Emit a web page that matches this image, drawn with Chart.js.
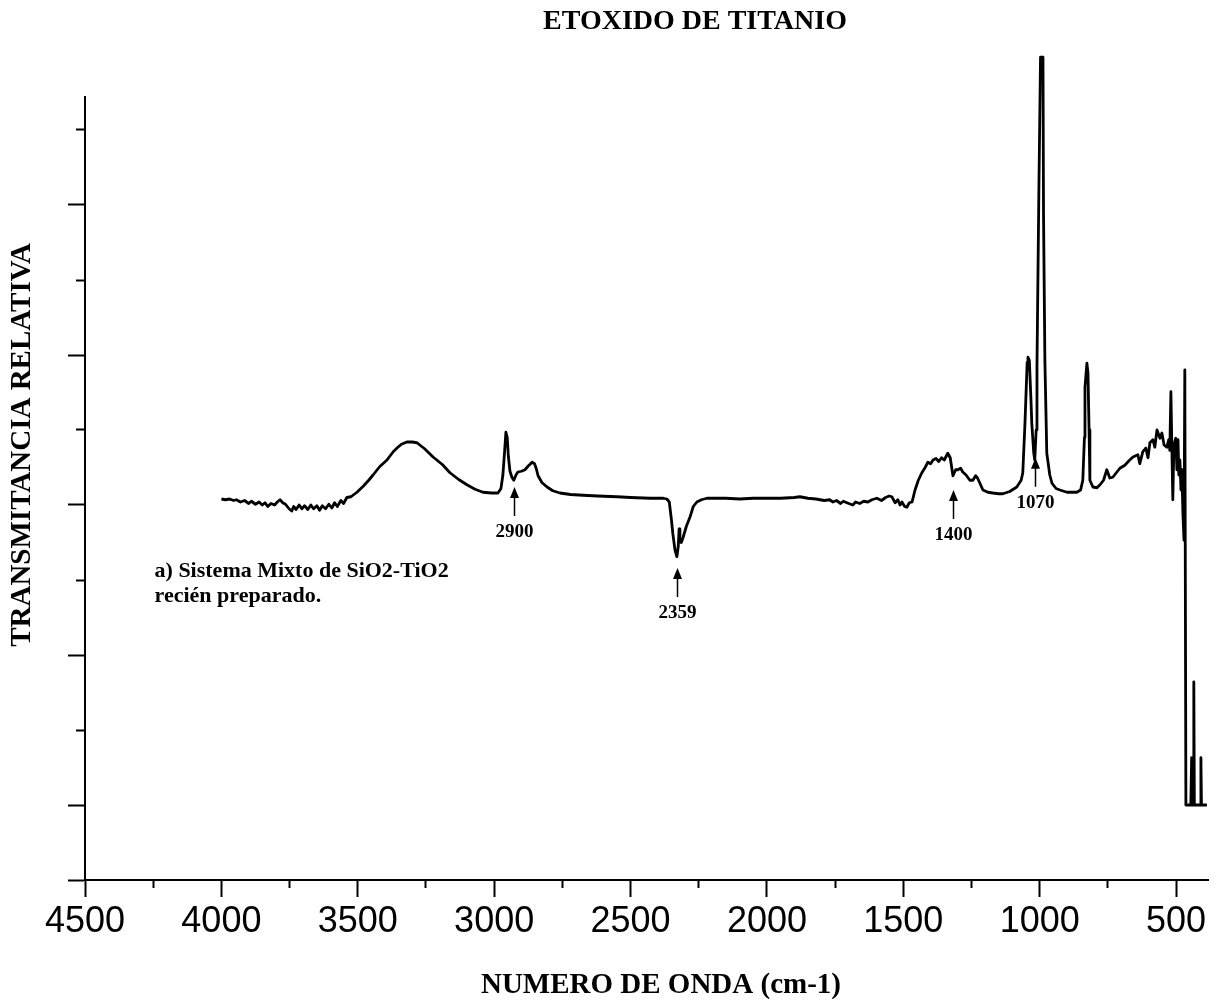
<!DOCTYPE html>
<html><head><meta charset="utf-8">
<script src="https://cdn.jsdelivr.net/npm/chart.js@4"></script>
<style>html,body{margin:0;padding:0;background:#fff;}</style>
</head><body>
<canvas id="c" width="1231" height="1000"></canvas>
<script>
// ---- data ----
const wavenumbers = [
 4000,3985,3970,3955,3945,3930,3915,3900,3890,3875,3862,3850,3840,3830,3818,3805,3795,3785,3775,3765,
 3752,3742,3735,3726,3715,3705,3695,3683,3672,3662,3650,3640,3630,3618,3606,3595,3585,3575,3562,3552,
 3540,3525,3503,3480,3460,3444,3420,3393,3370,3356,3340,3320,3300,3283,3255,3224,3190,3162,3130,3100,
 3070,3041,3010,2986,2975,2968,2962,2957,2952,2948,2942,2935,2928,2920,2913,2900,2887,2875,2861,2852,
 2846,2839,2825,2806,2785,2759,2720,2674,2620,2550,2500,2429,2380,2367,2358,2350,2345,2337,2330,2325,
 2322,2319,2314,2308,2295,2282,2270,2257,2240,2220,2150,2100,2050,2000,1950,1900,1879,1850,1820,1790,
 1770,1758,1745,1730,1720,1700,1685,1675,1660,1645,1630,1615,1597,1580,1565,1552,1542,1530,1520,1512,
 1505,1495,1487,1478,1468,1457,1445,1432,1420,1410,1400,1391,1380,1370,1360,1350,1337,1328,1318,1308,
 1300,1290,1282,1270,1256,1245,1235,1228,1218,1208,1190,1172,1150,1135,1110,1084,1068,1062,1054,1046,
 1043,1038,1032,1029,1022,1018,1013,1010,1003,997,988,986,981,974,963,955,940,926,900,864,
 850,842,836,834,827,823,819,816,805,790,779,766,754,743,732,717,706,688,670,658,
 640,633,622,611,603,596,585,578,570,559,552,544,534,527,523,519,515,512,508,501,
 497,493,490,486,482,479,475,471,468,464,446,443,441,437,435,433,411,409,407,387
];
const transmittance = [
 5.08,5.07,5.08,5.06,5.07,5.04,5.06,5.02,5.05,5.01,5.04,5.00,5.03,4.98,5.02,5.00,5.04,5.07,5.03,5.01,
 4.95,4.92,4.98,4.94,5.00,4.95,4.99,4.94,5.00,4.95,4.99,4.93,4.99,4.95,5.01,4.96,5.03,4.98,5.06,5.02,
 5.10,5.11,5.17,5.25,5.33,5.40,5.51,5.60,5.71,5.76,5.81,5.84,5.84,5.83,5.75,5.64,5.54,5.43,5.34,5.27,
 5.21,5.17,5.16,5.16,5.22,5.40,5.70,5.97,5.90,5.65,5.45,5.37,5.33,5.40,5.44,5.45,5.47,5.52,5.57,5.55,
 5.49,5.39,5.30,5.24,5.19,5.16,5.14,5.13,5.12,5.11,5.10,5.09,5.09,5.08,5.04,4.80,4.62,4.40,4.31,4.45,
 4.68,4.52,4.50,4.56,4.72,4.84,4.98,5.04,5.07,5.09,5.09,5.08,5.09,5.09,5.09,5.10,5.11,5.09,5.08,5.06,
 5.07,5.04,5.06,5.02,5.05,5.02,5.00,5.04,5.02,5.05,5.04,5.07,5.09,5.06,5.10,5.12,5.11,5.03,5.07,5.00,
 5.04,4.98,4.97,5.03,5.04,5.20,5.33,5.43,5.50,5.57,5.55,5.60,5.62,5.58,5.63,5.60,5.69,5.63,5.39,5.47,
 5.47,5.49,5.44,5.40,5.33,5.33,5.39,5.36,5.28,5.20,5.17,5.16,5.15,5.15,5.18,5.24,5.33,5.43,6.09,6.90,
 6.97,6.93,6.40,6.09,5.70,5.60,6.00,6.84,9.20,10.97,10.97,8.89,6.93,5.69,5.40,5.29,5.22,5.20,5.17,5.17,
 5.20,5.33,5.90,6.57,6.89,6.76,6.00,5.33,5.24,5.23,5.27,5.33,5.47,5.36,5.37,5.44,5.49,5.53,5.60,5.64,
 5.67,5.55,5.71,5.76,5.63,5.83,5.87,5.77,6.00,5.89,5.96,5.80,5.77,5.87,5.73,6.51,5.67,5.07,5.80,5.89,
 5.47,5.87,5.40,5.60,5.20,5.47,4.89,4.53,6.80,1.00,1.00,1.63,1.00,1.00,2.64,1.00,1.00,1.63,1.00,1.00
];
const xMajorTicks = [4500,4000,3500,3000,2500,2000,1500,1000,500];
const xMinorTicks = [4250,3750,3250,2750,2250,1750,1250,750];
const yMajorTicks = [0,1,3,5,7,9];
const yMinorTicks = [2,4,6,8,10];
const peakLabels = ['2900','2359','1400','1070'];
const peakX = [2927,2330,1318,1018];
const peakTipY = [5.24,4.16,5.20,5.63];
const noteLines = ['a) Sistema Mixto de SiO2-TiO2','recién preparado.'];
const noteX = 4245, noteY = 4.04;
const chartTitle = 'ETOXIDO DE TITANIO';
const xTitle = 'NUMERO DE ONDA (cm-1)';
const yTitle = 'TRANSMITANCIA RELATIVA';

// ---- drawing ----
const pad = n => '\u00a0'.repeat(n);
const serif = 'Liberation Serif';

const annotationPlugin = {
  id: 'peakNotes',
  afterDatasetsDraw(chart) {
    const {ctx, scales: {x, y}} = chart;
    ctx.save();
    ctx.fillStyle = '#000';
    ctx.strokeStyle = '#000';
    ctx.font = 'bold 19px "' + serif + '"';
    ctx.textAlign = 'center';
    ctx.textBaseline = 'alphabetic';
    peakLabels.forEach((lab, i) => {
      const px = Math.round(x.getPixelForValue(peakX[i])) + 0.5;
      const tip = y.getPixelForValue(peakTipY[i]);
      ctx.lineWidth = 1.5;
      ctx.beginPath(); ctx.moveTo(px, tip + 8); ctx.lineTo(px, tip + 29); ctx.stroke();
      ctx.beginPath(); ctx.moveTo(px, tip); ctx.lineTo(px - 4.5, tip + 11); ctx.lineTo(px + 4.5, tip + 11); ctx.closePath(); ctx.fill();
      ctx.fillText(lab, px, tip + 50);
    });
    ctx.textAlign = 'left';
    ctx.font = 'bold 22px "' + serif + '"';
    const nx = x.getPixelForValue(noteX), ny = y.getPixelForValue(noteY);
    noteLines.forEach((t, i) => ctx.fillText(t, nx, ny + i * 25));
    ctx.restore();
  }
};

const gridBase = {drawOnChartArea: false, drawTicks: true, tickWidth: 2, tickColor: '#000'};

new Chart(document.getElementById('c'), {
  type: 'line',
  data: {
    datasets: [{
      data: wavenumbers.map((w, i) => ({x: w, y: transmittance[i]})),
      borderColor: '#000',
      borderWidth: 2.8,
      borderJoinStyle: 'round',
      pointRadius: 0,
      tension: 0,
      fill: false,
      clip: false
    }]
  },
  options: {
    responsive: false,
    animation: false,
    devicePixelRatio: 1,
    layout: {padding: {left: 0, right: 23, top: 0, bottom: 0}},
    plugins: {
      legend: {display: false},
      tooltip: {enabled: false},
      title: {
        display: true,
        text: pad(26) + chartTitle,
        color: '#000',
        font: {family: serif, size: 28, weight: 'bold', lineHeight: 1},
        padding: {top: 8, bottom: 61}
      }
    },
    scales: {
      x: {
        type: 'linear', position: 'bottom', reverse: true, min: 383, max: 4500, weight: 1,
        afterBuildTicks: s => { s.ticks = xMajorTicks.map(v => ({value: v})); },
        afterFit: s => { s.height = 120; },
        ticks: {color: '#000', font: {family: 'Liberation Sans', size: 36, lineHeight: 1.2}, padding: 3,
                autoSkip: false, maxRotation: 0, minRotation: 0, callback: v => String(v)},
        grid: Object.assign({tickLength: 17}, gridBase),
        border: {display: true, color: '#000', width: 2},
        title: {display: true, text: pad(4) + xTitle, color: '#000',
                font: {family: serif, size: 29, weight: 'bold', lineHeight: 1}, padding: {top: 0, bottom: 0}}
      },
      x2: {
        type: 'linear', position: 'bottom', reverse: true, min: 383, max: 4500, weight: 0,
        afterBuildTicks: s => { s.ticks = xMinorTicks.map(v => ({value: v})); },
        afterFit: s => { s.height = 0; },
        ticks: {display: false},
        grid: Object.assign({tickLength: 8}, gridBase),
        border: {display: false}
      },
      y: {
        type: 'linear', position: 'left', min: 0, max: 10.44, weight: 1,
        afterBuildTicks: s => { s.ticks = yMajorTicks.map(v => ({value: v})); },
        afterFit: s => { s.width = 85; },
        ticks: {display: false},
        grid: Object.assign({tickLength: 17}, gridBase),
        border: {display: true, color: '#000', width: 2},
        title: {display: true, text: pad(12) + yTitle, color: '#000',
                font: {family: serif, size: 29, weight: 'bold', lineHeight: 1}, padding: {top: 8, bottom: 0}}
      },
      y2: {
        type: 'linear', position: 'left', min: 0, max: 10.44, weight: 0,
        afterBuildTicks: s => { s.ticks = yMinorTicks.map(v => ({value: v})); },
        afterFit: s => { s.width = 0; },
        ticks: {display: false},
        grid: Object.assign({tickLength: 9}, gridBase),
        border: {display: false}
      }
    }
  },
  plugins: [annotationPlugin]
});
</script>
</body></html>
